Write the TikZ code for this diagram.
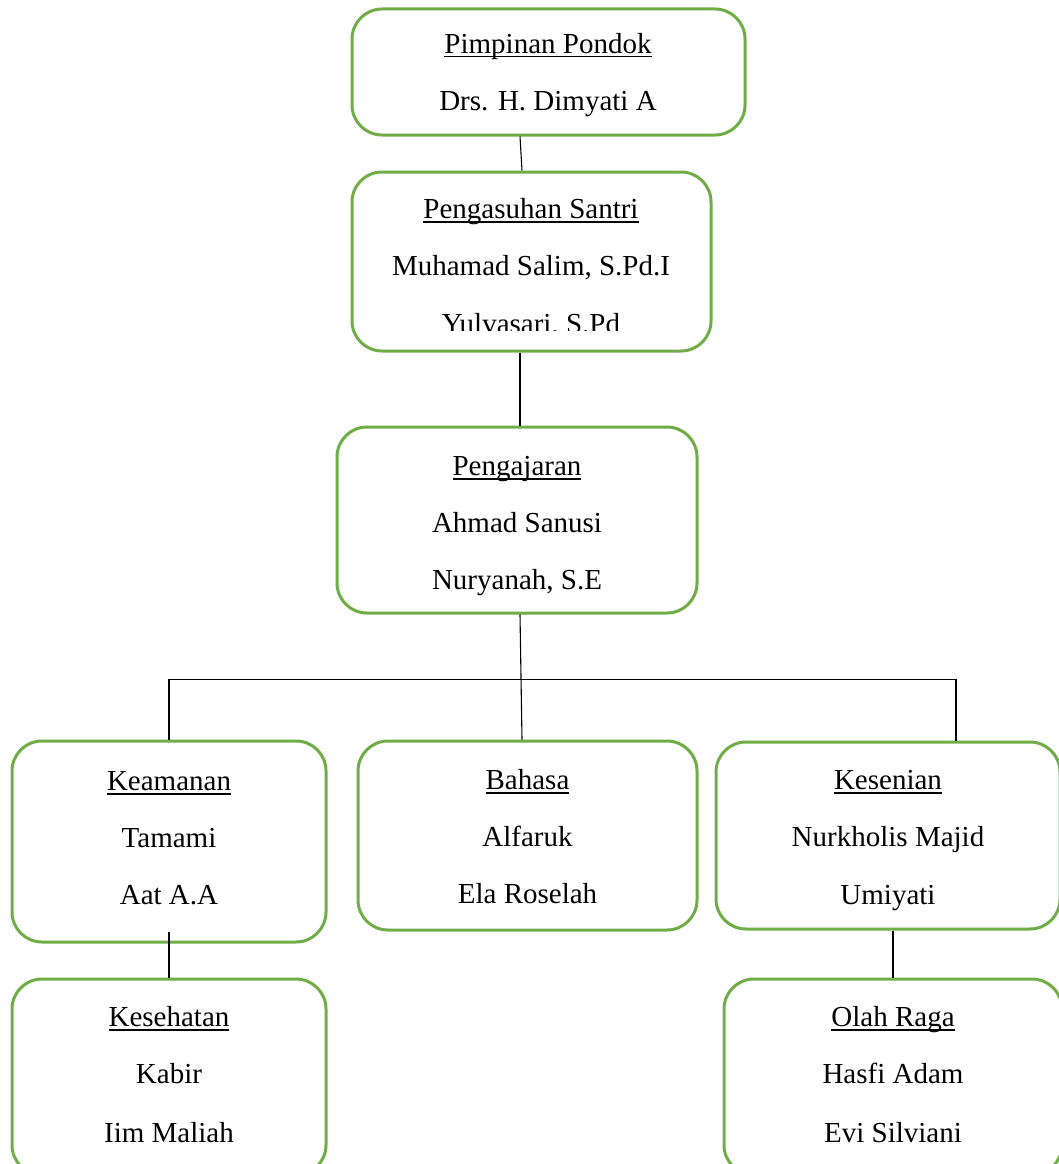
\documentclass[tikz,border=0pt]{standalone}
\usepackage{fontspec}
\setmainfont{Liberation Serif}
\definecolor{boxgreen}{HTML}{70AD47}
\newsavebox\ulbox
\newcommand\ulx[1]{\sbox\ulbox{#1}\rlap{\rule[-4.5pt]{\wd\ulbox}{1.6pt}}\usebox\ulbox}
\tikzset{
  orgbox/.style={draw=boxgreen, line width=3pt, rounded corners=30pt, rectangle, inner sep=0pt, fill=white},
  txt/.style={anchor=base, inner sep=0pt, font=\fontsize{29}{35}\selectfont},
  conn/.style={draw=black, line width=1.1pt}
}
\begin{document}
\begin{tikzpicture}[x=1pt,y=-1pt]
\clip (0,0) rectangle (1059,1164);
\fill[white] (0,0) rectangle (1059,1164);
% boxes
\node[orgbox, minimum width=393pt, minimum height=126pt] (b1) at (548.5,72) {};
\node[orgbox, minimum width=359pt, minimum height=179pt] (b2) at (531.5,261.5) {};
\node[orgbox, minimum width=360pt, minimum height=186pt] (b3) at (517,520) {};
\node[orgbox, minimum width=314pt, minimum height=201pt] (kea) at (169,841.5) {};
\node[orgbox, minimum width=339pt, minimum height=189pt] (bah) at (527.5,835.5) {};
\node[orgbox, minimum width=344pt, minimum height=187pt] (kes) at (888,835.5) {};
\node[orgbox, minimum width=314pt, minimum height=196pt] (keh) at (169,1077) {};
\node[orgbox, minimum width=338pt, minimum height=196pt] (olr) at (893,1077) {};
% connectors
\draw[conn] ([xshift=-28.5pt]b1.south) -- ([xshift=-9.5pt]b2.north);
\draw[conn] ([xshift=-11.5pt]b2.south) -- ([xshift=3pt]b3.north);
\draw[conn] ([xshift=3pt]b3.south) -- ([xshift=-5.5pt]bah.north);
\draw[conn] (kea.north) -- ++(0,-60) -| ([xshift=68pt]kes.north);
\draw[conn] ([yshift=12pt]kea.south) -- (keh.north);
\draw[conn] ([xshift=5pt]kes.south) -- (olr.north);
% texts
\node[txt] (t1a) at (548,53) {\ulx{Pimpinan Pondok}};
\node[txt] (t1b) at (548,110) {Drs. H. Dimyati A};
\node[txt] (t2a) at (531,218) {\ulx{Pengasuhan Santri}};
\node[txt] (t2b) at (531,275) {Muhamad Salim, S.Pd.I};
\begin{scope}
\clip (360,300) rectangle (700,330.5);
\node[txt] (t2c) at (531,333) {Yulvasari, S.Pd};
\end{scope}
\node[txt] (t3a) at (517,475) {\ulx{Pengajaran}};
\node[txt] (t3b) at (517,532) {Ahmad Sanusi};
\node[txt] (t3c) at (517,589) {Nuryanah, S.E};
\node[txt] (t4a) at (169,790) {\ulx{Keamanan}};
\node[txt] (t4b) at (169,847) {Tamami};
\node[txt] (t4c) at (169,904) {Aat A.A};
\node[txt] (t5a) at (527.5,789) {\ulx{Bahasa}};
\node[txt] (t5b) at (527.5,846) {Alfaruk};
\node[txt] (t5c) at (527.5,903) {Ela Roselah};
\node[txt] (t6a) at (888,789) {\ulx{Kesenian}};
\node[txt] (t6b) at (888,846) {Nurkholis Majid};
\node[txt] (t6c) at (888,904) {Umiyati};
\node[txt] (t7a) at (169,1026) {\ulx{Kesehatan}};
\node[txt] (t7b) at (169,1083) {Kabir};
\node[txt] (t7c) at (169,1142) {Iim Maliah};
\node[txt] (t8a) at (893,1026) {\ulx{Olah Raga}};
\node[txt] (t8b) at (893,1083) {Hasfi Adam};
\node[txt] (t8c) at (893,1142) {Evi Silviani};
\end{tikzpicture}
\end{document}
